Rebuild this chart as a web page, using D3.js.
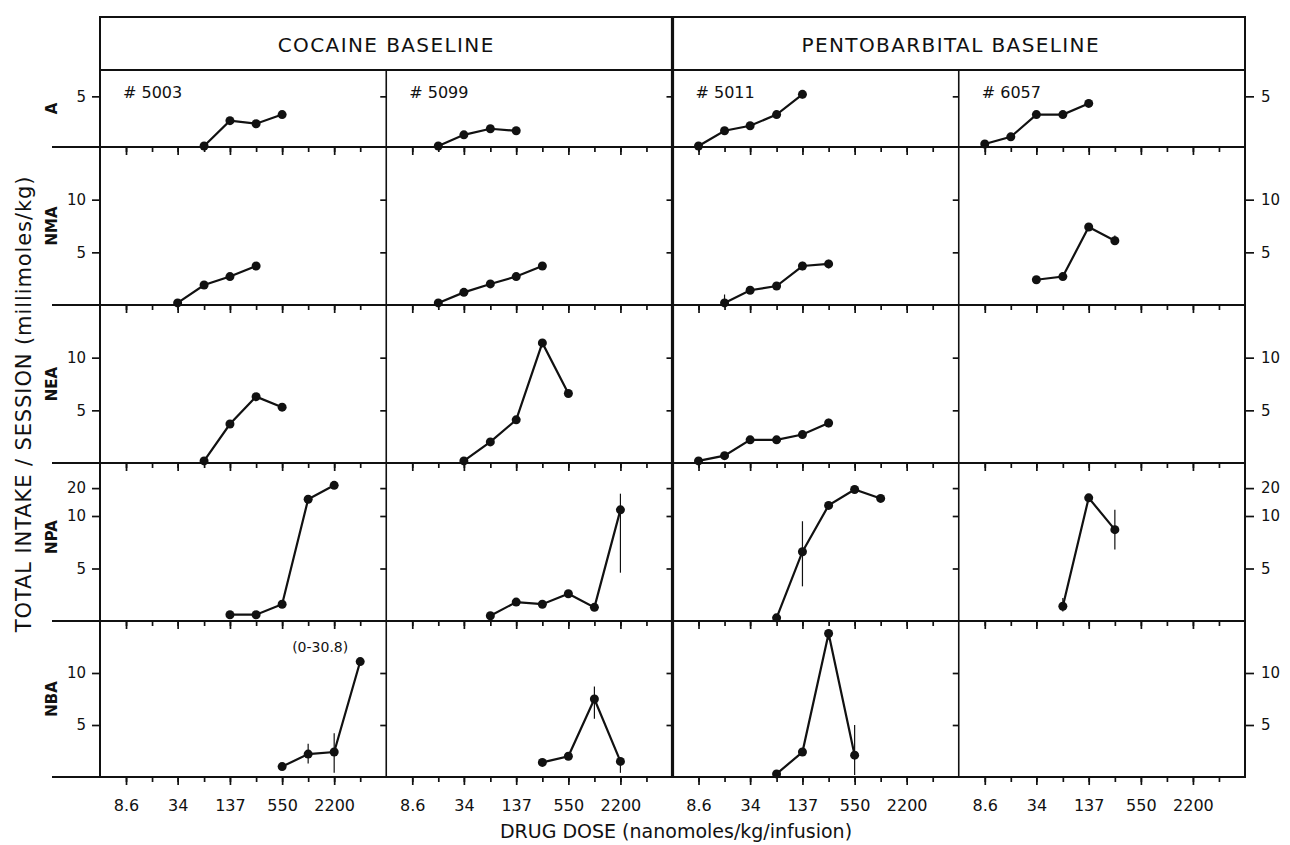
<!DOCTYPE html>
<html>
<head>
<meta charset="utf-8">
<script src="https://cdn.jsdelivr.net/npm/d3@7"></script>
<style>
  html, body { margin: 0; padding: 0; background: #fff; }
  svg { display: block; font-family: "DejaVu Sans", sans-serif; }
</style>
</head>
<body>
<svg id="chart" width="1290" height="845"></svg>
<script>
// ---------------- DATA ----------------
const doses = [8.6, 17.2, 34, 68.8, 137, 275, 550, 1100, 2200, 4400];
const tickDoses = [8.6, 34, 137, 550, 2200];
const tickLabels = ["8.6", "34", "137", "550", "2200"];
const drugs = ["A", "NMA", "NEA", "NPA", "NBA"];
const subjects = ["# 5003", "# 5099", "# 5011", "# 6057"];
const baselines = ["COCAINE BASELINE", "PENTOBARBITAL BASELINE"];
const yTicks = [[5], [5, 10], [5, 10], [5, 10, 20], [5, 10]];
const yDomains = [[0, 7.6], [0, 15], [0, 15], [0, 10, 29], [0, 15]];

// series per drug: one list per subject of [dose, intake]
const seriesA = [
  [[68.8, 0.1], [137, 2.6], [275, 2.3], [550, 3.2]],
  [[17.2, 0.1], [34, 1.2], [68.8, 1.8], [137, 1.6]],
  [[8.6, 0.1], [17.2, 1.6], [34, 2.1], [68.8, 3.2], [137, 5.2]],
  [[8.6, 0.3], [17.2, 1.0], [34, 3.2], [68.8, 3.2], [137, 4.3]]
];
const seriesNMA = [
  [[34, 0.2], [68.8, 1.9], [137, 2.7], [275, 3.7]],
  [[17.2, 0.2], [34, 1.2], [68.8, 2.0], [137, 2.7], [275, 3.7]],
  [[17.2, 0.2], [34, 1.4], [68.8, 1.8], [137, 3.7], [275, 3.9]],
  [[34, 2.4], [68.8, 2.7], [137, 7.4], [275, 6.1]]
];
const seriesNEA = [
  [[68.8, 0.2], [137, 3.7], [275, 6.3], [550, 5.3]],
  [[34, 0.2], [68.8, 2.0], [137, 4.1], [275, 11.4], [550, 6.6]],
  [[8.6, 0.2], [17.2, 0.7], [34, 2.2], [68.8, 2.2], [137, 2.7], [275, 3.8]],
  []
];
const seriesNPA = [
  [[137, 0.6], [275, 0.6], [550, 1.6], [1100, 16], [2200, 21]],
  [[68.8, 0.5], [137, 1.8], [275, 1.6], [550, 2.6], [1100, 1.3], [2200, 12.2]],
  [[68.8, 0.3], [137, 6.6], [275, 13.8], [550, 19.5], [1100, 16.3]],
  [[68.8, 1.4], [137, 16.5], [275, 8.7]]
];
const seriesNBA = [
  [[550, 1.0], [1100, 2.2], [2200, 2.4], [4400, 11.1]],
  [[275, 1.4], [550, 2.0], [1100, 7.5], [2200, 1.5]],
  [[68.8, 0.3], [137, 2.4], [275, 13.8], [550, 2.1]],
  []
];
// error bars per drug: one list per subject of [dose, low, high]
const errorsA = [[], [], [[137, 4.8, 5.6]], []];
const errorsNMA = [[], [], [[17.2, 0, 1.0], [137, 3.3, 4.1], [275, 3.5, 4.3]], [[275, 5.7, 6.6]]];
const errorsNEA = [[], [], [[275, 3.4, 4.2]], []];
const errorsNPA = [[], [[2200, 4.6, 18]], [[137, 3.3, 9.5]], [[68.8, 0.9, 2.2], [275, 6.8, 12.2]]];
const errorsNBA = [[[1100, 1.3, 3.2], [2200, 0.4, 4.2]], [[1100, 5.6, 8.7], [2200, 0.4, 1.9]], [[275, 13.2, 14.1], [550, 0.2, 5.0]], []];
const allSeries = [seriesA, seriesNMA, seriesNEA, seriesNPA, seriesNBA];
const allErrors = [errorsA, errorsNMA, errorsNEA, errorsNPA, errorsNBA];
const note = { row: 4, col: 0, dose: 4400, value: 11.1, text: "(0-30.8)" };

// ---------------- LAYOUT ----------------
const svg = d3.select("#chart");
const L = 100, R = 1245, T = 17, HB = 70;
const rowEdges = [70, 147, 305, 463, 621, 777];
const colW = (R - L) / 4;
const ink = "#111";

// frame
const fr = svg.append("g").attr("stroke", ink).attr("fill", "none");
fr.append("rect").attr("x", L).attr("y", T).attr("width", R - L).attr("height", rowEdges[5] - T).attr("stroke-width", 2);
fr.append("line").attr("x1", L).attr("x2", R).attr("y1", HB).attr("y2", HB).attr("stroke-width", 1.8);
rowEdges.slice(1).forEach(yv => {
  fr.append("line").attr("x1", 52).attr("x2", R).attr("y1", yv).attr("y2", yv).attr("stroke-width", 2);
});
[1, 3].forEach(c => {
  fr.append("line").attr("x1", L + c * colW).attr("x2", L + c * colW).attr("y1", HB).attr("y2", rowEdges[5]).attr("stroke-width", 1.6);
});
fr.append("line").attr("x1", L + 2 * colW).attr("x2", L + 2 * colW).attr("y1", T).attr("y2", rowEdges[5]).attr("stroke-width", 3.2);

// headers
baselines.forEach((b, i) => {
  svg.append("text").attr("x", i === 0 ? L + colW : L + 3 * colW - 8).attr("y", 52)
    .attr("text-anchor", "middle").attr("font-size", 20).attr("letter-spacing", 1.4)
    .attr("fill", ink).text(b);
});

// panels
drugs.forEach((drug, r) => {
  const yb = rowEdges[r + 1], yt = rowEdges[r];
  const dom = yDomains[r];
  const range = dom.length === 2 ? [yb, yt] : [yb, yb - 105, yt];
  const y = d3.scaleLinear().domain(dom).range(range);

  // row label
  svg.append("text")
    .attr("transform", `translate(57,${(yt + yb) / 2 - (r === 3 ? 5 : 0)}) rotate(-90)`)
    .attr("text-anchor", "middle").attr("font-size", 15).attr("font-weight", "bold")
    .attr("fill", ink).text(drug);

  for (let c = 0; c < 4; c++) {
    const xl = L + c * colW;
    const x = d3.scaleLog().domain([4.3, 8806]).range([xl, xl + colW]);
    const g = svg.append("g");

    // x axis: minor & major ticks pointing down from panel bottom
    const minor = g.append("g").attr("transform", `translate(0,${yb})`)
      .call(d3.axisBottom(x).tickValues(doses).tickSize(5).tickFormat(""));
    const major = g.append("g").attr("transform", `translate(0,${yb})`)
      .call(d3.axisBottom(x).tickValues(tickDoses).tickSize(8).tickPadding(15)
        .tickFormat((d, i) => r === 4 ? tickLabels[i] : ""));
    [minor, major].forEach(a => {
      a.select(".domain").remove();
      a.selectAll("line").attr("stroke", ink).attr("stroke-width", 1.7);
      a.selectAll("text").attr("font-size", 16).attr("fill", ink).attr("font-family", "DejaVu Sans");
    });

    // y axis on left of each panel
    const ya = g.append("g").attr("transform", `translate(${xl},0)`)
      .call(d3.axisLeft(y).tickValues(yTicks[r]).tickSize(c === 0 ? 8 : 6).tickPadding(6)
        .tickFormat(d => c === 0 ? d : ""));
    ya.select(".domain").remove();
    ya.selectAll("line").attr("stroke", ink).attr("stroke-width", 1.7);
    ya.selectAll("text").attr("font-size", 15).attr("fill", ink).attr("font-family", "DejaVu Sans");

    if (c === 3) {
      const yr = g.append("g").attr("transform", `translate(${R},0)`)
        .call(d3.axisRight(y).tickValues(yTicks[r]).tickSize(9).tickPadding(7));
      yr.select(".domain").remove();
      yr.selectAll("line").attr("stroke", ink).attr("stroke-width", 1.7);
      yr.selectAll("text").attr("font-size", 15).attr("fill", ink).attr("font-family", "DejaVu Sans");
    }

    // subject label
    if (r === 0) {
      g.append("text").attr("x", xl + 23).attr("y", 98).attr("font-size", 16)
        .attr("fill", ink).text(subjects[c]);
    }

    // error bars
    g.selectAll(".err").data(allErrors[r][c]).join("line")
      .attr("x1", d => x(d[0])).attr("x2", d => x(d[0]))
      .attr("y1", d => y(d[1])).attr("y2", d => y(d[2]))
      .attr("stroke", ink).attr("stroke-width", 1.2);

    // line and points
    const pts = allSeries[r][c];
    if (pts.length) {
      g.append("path").datum(pts)
        .attr("d", d3.line().x(d => x(d[0])).y(d => y(d[1])))
        .attr("fill", "none").attr("stroke", ink).attr("stroke-width", 2.2);
      g.selectAll(".pt").data(pts).join("circle")
        .attr("cx", d => x(d[0])).attr("cy", d => y(d[1])).attr("r", 4.5).attr("fill", ink);
    }

    if (note.row === r && note.col === c) {
      g.append("text").attr("x", x(note.dose) - 40).attr("y", y(note.value) - 10)
        .attr("text-anchor", "middle").attr("font-size", 14).attr("fill", ink).text(note.text);
    }
  }
});

// axis titles
svg.append("text").attr("x", 676).attr("y", 838).attr("text-anchor", "middle")
  .attr("font-size", 19).attr("fill", ink).text("DRUG DOSE (nanomoles/kg/infusion)");
svg.append("text").attr("transform", "translate(31,404) rotate(-90)").attr("text-anchor", "middle")
  .attr("font-size", 21).attr("letter-spacing", 0.9).attr("fill", ink)
  .text("TOTAL INTAKE / SESSION (millimoles/kg)");
</script>
</body>
</html>
